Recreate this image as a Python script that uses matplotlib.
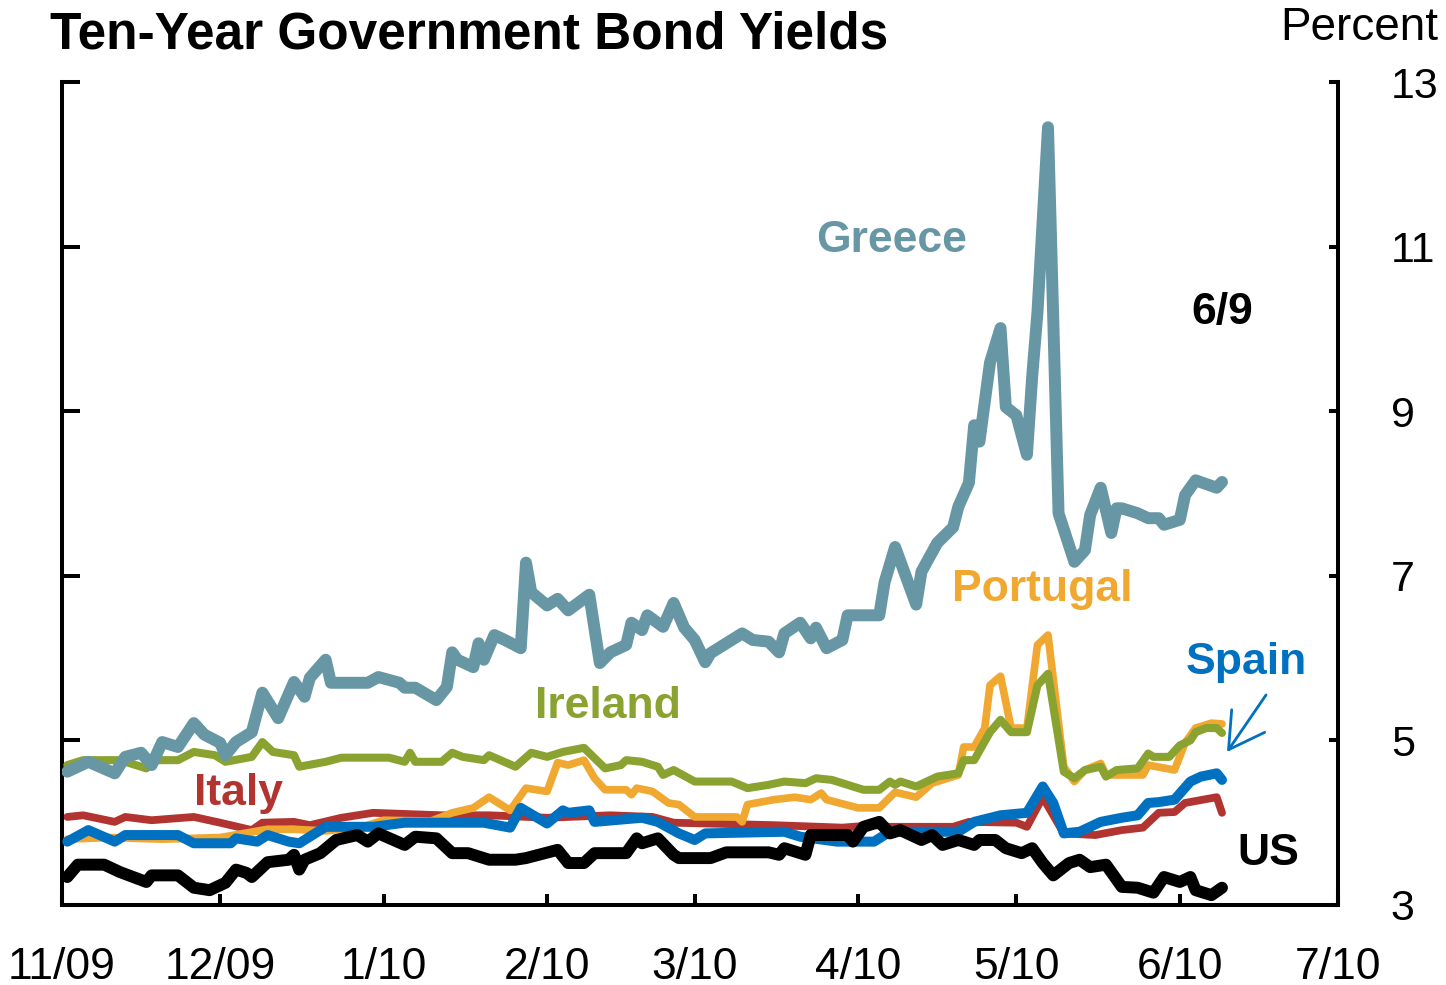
import matplotlib
matplotlib.use('Agg')
import matplotlib.pyplot as plt
import pandas as pd

# ---------------- data ----------------
greece_dates = ['2009-11-02','2009-11-06','2009-11-11','2009-11-13','2009-11-16','2009-11-18','2009-11-20',
 '2009-11-23','2009-11-26','2009-11-28','2009-12-01','2009-12-02','2009-12-04','2009-12-07','2009-12-09',
 '2009-12-12','2009-12-15','2009-12-17','2009-12-18','2009-12-21','2009-12-22','2009-12-29','2009-12-31',
 '2010-01-04','2010-01-05','2010-01-07','2010-01-11','2010-01-13','2010-01-14','2010-01-15','2010-01-18',
 '2010-01-19','2010-01-20','2010-01-22','2010-01-24','2010-01-27','2010-01-28','2010-01-29','2010-02-01',
 '2010-02-03','2010-02-05','2010-02-09','2010-02-11','2010-02-13','2010-02-16','2010-02-17','2010-02-19',
 '2010-02-20','2010-02-23','2010-02-25','2010-02-27','2010-03-01','2010-03-03','2010-03-04','2010-03-08',
 '2010-03-10','2010-03-12','2010-03-15','2010-03-17','2010-03-18','2010-03-21','2010-03-23','2010-03-24',
 '2010-03-26','2010-03-29','2010-03-30','2010-04-05','2010-04-06','2010-04-08','2010-04-12','2010-04-13',
 '2010-04-16','2010-04-19','2010-04-20','2010-04-22','2010-04-23','2010-04-24','2010-04-26','2010-04-28',
 '2010-04-29','2010-05-01','2010-05-03','2010-05-04','2010-05-05','2010-05-07','2010-05-09','2010-05-12',
 '2010-05-14','2010-05-15','2010-05-17','2010-05-19','2010-05-20','2010-05-21','2010-05-24','2010-05-26',
 '2010-05-28','2010-05-29','2010-06-01','2010-06-02','2010-06-04','2010-06-08','2010-06-09']
greece_vals = [4.62,4.74,4.60,4.80,4.85,4.70,4.98,
 4.92,5.21,5.07,4.97,4.82,4.98,5.10,5.58,
 5.27,5.71,5.53,5.76,5.98,5.70,5.70,5.77,
 5.70,5.64,5.64,5.49,5.65,6.07,5.98,5.89,
 6.18,5.98,6.28,6.22,6.12,7.16,6.80,6.64,
 6.72,6.58,6.77,5.94,6.07,6.16,6.43,6.34,
 6.52,6.38,6.67,6.37,6.22,5.95,6.06,6.22,
 6.30,6.22,6.20,6.07,6.30,6.43,6.24,6.37,
 6.12,6.22,6.52,6.52,6.92,7.35,6.65,7.05,
 7.40,7.59,7.84,8.13,8.83,8.63,9.59,10.01,
 9.05,8.95,8.47,9.42,10.20,12.45,7.76,7.17,
 7.31,7.74,8.07,7.52,7.82,7.82,7.76,7.70,
 7.70,7.62,7.68,7.98,8.16,8.07,8.14]

ireland_dates = ['2009-11-02','2009-11-05','2009-11-12','2009-11-17','2009-11-18','2009-11-23','2009-11-26',
 '2009-11-30','2009-12-02','2009-12-07','2009-12-09','2009-12-11','2009-12-15','2009-12-16','2009-12-21',
 '2009-12-24','2010-01-02','2010-01-05','2010-01-06','2010-01-07','2010-01-12','2010-01-14','2010-01-16',
 '2010-01-20','2010-01-21','2010-01-26','2010-01-29','2010-02-01','2010-02-04','2010-02-08','2010-02-12',
 '2010-02-15','2010-02-16','2010-02-19','2010-02-22','2010-02-23','2010-02-25','2010-03-01','2010-03-08',
 '2010-03-11','2010-03-15','2010-03-18','2010-03-22','2010-03-24','2010-03-27','2010-04-02','2010-04-05',
 '2010-04-07','2010-04-08','2010-04-09','2010-04-12','2010-04-16','2010-04-20','2010-04-21','2010-04-23',
 '2010-04-26','2010-04-28','2010-04-30','2010-05-03','2010-05-05','2010-05-07','2010-05-10','2010-05-12',
 '2010-05-14','2010-05-17','2010-05-18','2010-05-20','2010-05-24','2010-05-26','2010-05-27','2010-05-30',
 '2010-06-01','2010-06-03','2010-06-04','2010-06-06','2010-06-08','2010-06-09']
ireland_vals = [4.70,4.76,4.76,4.66,4.76,4.76,4.86,
 4.82,4.74,4.80,4.98,4.86,4.82,4.68,4.74,
 4.79,4.79,4.74,4.85,4.74,4.74,4.85,4.80,
 4.76,4.82,4.68,4.85,4.80,4.86,4.91,4.66,
 4.70,4.76,4.74,4.68,4.58,4.64,4.50,4.50,
 4.42,4.46,4.50,4.48,4.54,4.52,4.40,4.40,
 4.50,4.46,4.50,4.44,4.56,4.60,4.76,4.76,
 5.10,5.25,5.10,5.10,5.67,5.81,4.62,4.54,
 4.64,4.68,4.56,4.64,4.66,4.84,4.80,4.80,
 4.94,5.00,5.10,5.15,5.15,5.09]

portugal_dates = ['2009-11-02','2009-11-10','2009-11-20','2009-12-01','2009-12-10','2009-12-15','2009-12-21',
 '2009-12-28','2010-01-01','2010-01-10','2010-01-14','2010-01-18','2010-01-21','2010-01-25','2010-01-28',
 '2010-02-01','2010-02-03','2010-02-05','2010-02-08','2010-02-10','2010-02-12','2010-02-16','2010-02-17',
 '2010-02-18','2010-02-21','2010-02-24','2010-02-26','2010-03-01','2010-03-09','2010-03-10','2010-03-11',
 '2010-03-16','2010-03-20','2010-03-23','2010-03-25','2010-03-26','2010-04-01','2010-04-05','2010-04-08',
 '2010-04-12','2010-04-15','2010-04-20','2010-04-21','2010-04-23','2010-04-25','2010-04-26','2010-04-28',
 '2010-04-30','2010-05-03','2010-05-05','2010-05-07','2010-05-10','2010-05-12','2010-05-14','2010-05-17',
 '2010-05-18','2010-05-25','2010-05-26','2010-05-31','2010-06-02','2010-06-04','2010-06-07','2010-06-09']
portugal_vals = [3.80,3.82,3.80,3.82,3.92,3.92,3.90,
 3.95,4.03,4.02,4.12,4.18,4.31,4.15,4.42,
 4.38,4.73,4.70,4.76,4.54,4.40,4.40,4.34,
 4.42,4.38,4.24,4.22,4.07,4.07,4.01,4.22,
 4.28,4.31,4.28,4.36,4.28,4.18,4.18,4.37,
 4.31,4.48,4.58,4.92,4.92,5.15,5.67,5.78,
 5.15,5.15,6.16,6.28,4.68,4.50,4.64,4.72,
 4.58,4.58,4.70,4.64,4.97,5.15,5.21,5.20]

spain_dates = ['2009-11-02','2009-11-06','2009-11-11','2009-11-13','2009-11-23','2009-11-26','2009-12-03',
 '2009-12-04','2009-12-08','2009-12-10','2009-12-14','2009-12-16','2009-12-21','2009-12-30','2010-01-05',
 '2010-01-13','2010-01-20','2010-01-25','2010-01-27','2010-02-01','2010-02-04','2010-02-05','2010-02-09',
 '2010-02-10','2010-02-19','2010-02-22','2010-02-26','2010-03-01','2010-03-03','2010-03-18','2010-03-21',
 '2010-03-28','2010-04-04','2010-04-07','2010-04-11','2010-04-20','2010-04-23','2010-04-28','2010-05-03',
 '2010-05-06','2010-05-08','2010-05-10','2010-05-13','2010-05-17','2010-05-21','2010-05-24','2010-05-26',
 '2010-05-28','2010-05-31','2010-06-03','2010-06-05','2010-06-08','2010-06-09']
spain_vals = [3.77,3.91,3.77,3.85,3.85,3.75,3.75,
 3.81,3.77,3.85,3.77,3.75,3.95,3.95,4.00,
 4.00,4.00,3.94,4.18,3.99,4.15,4.12,4.15,
 4.01,4.06,4.01,3.87,3.79,3.87,3.89,3.83,
 3.77,3.77,3.89,3.89,3.89,4.01,4.09,4.12,
 4.44,4.24,3.87,3.89,4.01,4.06,4.09,4.24,
 4.25,4.28,4.50,4.56,4.60,4.52]

italy_dates = ['2009-11-02','2009-11-05','2009-11-11','2009-11-13','2009-11-18','2009-11-24','2009-11-26',
 '2009-12-01','2009-12-07','2009-12-09','2009-12-15','2009-12-18','2009-12-24','2009-12-30','2010-01-12',
 '2010-01-21','2010-02-01','2010-02-13','2010-02-21','2010-02-25','2010-03-16','2010-03-29','2010-04-04',
 '2010-04-07','2010-04-19','2010-04-22','2010-05-01','2010-05-03','2010-05-06','2010-05-10','2010-05-16',
 '2010-05-21','2010-05-25','2010-05-28','2010-05-31','2010-06-02','2010-06-08','2010-06-09']
italy_vals = [4.07,4.09,4.01,4.07,4.03,4.06,4.07,
 4.00,3.91,4.00,4.01,3.97,4.06,4.12,4.09,
 4.09,4.06,4.09,4.07,4.00,3.97,3.94,3.97,
 3.95,3.95,4.01,4.00,3.95,4.31,3.87,3.85,
 3.91,3.94,4.12,4.13,4.24,4.31,4.12]

us_dates = ['2009-11-02','2009-11-04','2009-11-09','2009-11-12','2009-11-17','2009-11-18','2009-11-23',
 '2009-11-26','2009-11-29','2009-12-02','2009-12-04','2009-12-06','2009-12-07','2009-12-10','2009-12-14',
 '2009-12-15','2009-12-16','2009-12-17','2009-12-20','2009-12-23','2009-12-27','2009-12-29','2009-12-31',
 '2010-01-05','2010-01-07','2010-01-11','2010-01-14','2010-01-17','2010-01-21','2010-01-26','2010-01-28',
 '2010-02-03','2010-02-05','2010-02-08','2010-02-10','2010-02-16','2010-02-18','2010-02-19','2010-02-22',
 '2010-02-25','2010-02-26','2010-03-04','2010-03-07','2010-03-15','2010-03-17','2010-03-18','2010-03-22',
 '2010-03-23','2010-03-30','2010-03-31','2010-04-02','2010-04-05','2010-04-07','2010-04-09','2010-04-13',
 '2010-04-15','2010-04-17','2010-04-20','2010-04-23','2010-04-24','2010-04-27','2010-04-29','2010-05-02',
 '2010-05-04','2010-05-06','2010-05-08','2010-05-11','2010-05-13','2010-05-15','2010-05-18','2010-05-21',
 '2010-05-24','2010-05-27','2010-05-29','2010-06-01','2010-06-03','2010-06-04','2010-06-07','2010-06-09']
us_vals = [3.34,3.49,3.49,3.40,3.28,3.36,3.36,
 3.21,3.18,3.27,3.43,3.39,3.34,3.52,3.55,
 3.61,3.43,3.55,3.63,3.79,3.85,3.77,3.87,
 3.73,3.83,3.81,3.63,3.63,3.55,3.55,3.57,
 3.67,3.51,3.51,3.63,3.63,3.81,3.75,3.81,
 3.61,3.57,3.57,3.64,3.64,3.61,3.69,3.61,
 3.85,3.85,3.77,3.95,4.01,3.87,3.91,3.79,
 3.85,3.73,3.79,3.73,3.79,3.79,3.69,3.63,
 3.69,3.51,3.36,3.51,3.55,3.46,3.49,3.22,
 3.21,3.15,3.34,3.28,3.34,3.18,3.12,3.21]

month_ticks = ['2009-11-01','2009-12-01','2010-01-01','2010-02-01','2010-03-01',
               '2010-04-01','2010-05-01','2010-06-01','2010-07-01']
month_labels = ['11/09','12/09','1/10','2/10','3/10','4/10','5/10','6/10','7/10']
y_ticks = [3, 5, 7, 9, 11, 13]

# ---------------- style ----------------
FONT = 'Liberation Sans'
plt.rcParams['font.family'] = [FONT, 'DejaVu Sans']

C_GREECE = '#6797A5'
C_PORT = '#F0A830'
C_IRE = '#8AA230'
C_ITALY = '#B23430'
C_SPAIN = '#0070C0'
C_US = '#000000'

fig = plt.figure(figsize=(14.46, 9.85), dpi=100)
ax = fig.add_axes([62/1446, 80/985, 1276/1446, 823/985])

def draw(dates, vals, color, lw, z):
    ax.plot(pd.to_datetime(dates), vals, color=color, lw=lw, zorder=z,
            solid_joinstyle='round', solid_capstyle='round')

draw(italy_dates, italy_vals, C_ITALY, 5.6, 2)
draw(portugal_dates, portugal_vals, C_PORT, 5.5, 3)
draw(ireland_dates, ireland_vals, C_IRE, 5.8, 4)
draw(spain_dates, spain_vals, C_SPAIN, 7.2, 5)
draw(greece_dates, greece_vals, C_GREECE, 8.6, 6)
draw(us_dates, us_vals, C_US, 8.6, 7)

xt = pd.to_datetime(month_ticks)
ax.set_xlim(xt[0], xt[-1])
ax.set_ylim(3, 13)
ax.set_xticks(xt)
ax.set_xticklabels(month_labels, fontsize=32, fontfamily=FONT)
ax.set_yticks(y_ticks)
ax.tick_params(axis='x', direction='in', length=8, width=2.9, pad=30)
ax.tick_params(axis='y', direction='in', length=13, width=2.9, labelleft=False)

for s in ['top', 'right']:
    ax.spines[s].set_visible(False)
for s in ['left', 'bottom']:
    ax.spines[s].set_linewidth(2.9)

ax2 = ax.twinx()
ax2.set_ylim(3, 13)
ax2.set_yticks(y_ticks)
ax2.set_yticklabels([str(v) for v in y_ticks], fontsize=31, fontfamily=FONT)
ax2.tick_params(axis='y', direction='in', length=6.5, width=2.9, pad=38)
for s in ['top', 'left', 'bottom']:
    ax2.spines[s].set_visible(False)
ax2.spines['right'].set_linewidth(2.9)

# ---------------- text ----------------
fig.text(50/1446, 1 - 35/985, 'Ten-Year Government Bond Yields', fontsize=37,
         fontweight='bold', ha='left', va='center', fontfamily=FONT)
fig.text(1438/1446, 1 - 28/985, 'Percent', fontsize=33, ha='right', va='center',
         fontfamily=FONT)

def label(x, y, s, c):
    ax.text(x, y, s, transform=ax.transAxes, color=c, fontsize=32, fontweight='bold',
            ha='center', va='center', fontfamily=FONT, zorder=10)

label(0.6505, 0.808, 'Greece', C_GREECE)
label(0.909, 0.7205, '6/9', C_US)
label(0.768, 0.383, 'Portugal', C_PORT)
label(0.928, 0.295, 'Spain', C_SPAIN)
label(0.428, 0.2406, 'Ireland', C_IRE)
label(0.138, 0.136, 'Italy', C_ITALY)
label(0.945, 0.063, 'US', C_US)

ax.annotate('', xy=(0.913, 0.1859), xytext=(0.9436, 0.2552), xycoords='axes fraction',
            textcoords='axes fraction',
            arrowprops=dict(arrowstyle='->,head_length=1.25,head_width=0.72', color=C_SPAIN,
                            lw=2.0, shrinkA=0, shrinkB=0, mutation_scale=20), zorder=10)

fig.savefig('out.png', dpi=100)
